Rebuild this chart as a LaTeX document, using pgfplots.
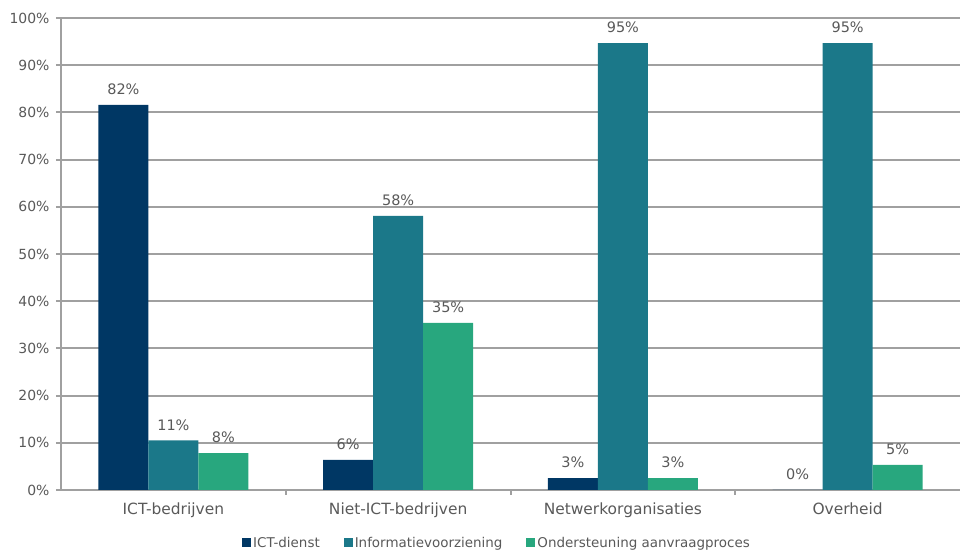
\documentclass[border=0pt]{standalone}
\usepackage{pgfplots}
\pgfplotsset{compat=1.18}
\usepackage{fontspec}
\setmainfont{DejaVu Sans}
\definecolor{cnavy}{HTML}{003764}
\definecolor{cteal}{HTML}{1B7889}
\definecolor{cgreen}{HTML}{28A77E}
\definecolor{cgrid}{HTML}{A0A0A0}
\definecolor{ctext}{HTML}{595959}
\begin{document}
\begin{tikzpicture}
\path[use as bounding box] (0,0) rectangle (960bp,552bp);
\begin{axis}[
  at={(61bp,62bp)}, anchor=south west,
  scale only axis, width=899bp, height=472bp,
  ybar, bar width=50bp,
  xmin=-0.5, xmax=3.5, ymin=0, ymax=100,
  axis x line*=bottom, axis y line*=left,
  axis line style={draw=cgrid, line width=2.6bp, -},
  ymajorgrids, grid style={cgrid, line width=2bp},
  tick align=outside, major tick length=5bp,
  tick style={draw=cgrid, line width=2bp},
  xtick={0.5,1.5,2.5}, xticklabels={},
  extra x ticks={0,1,2,3},
  extra x tick labels={ICT-bedrijven,Niet-ICT-bedrijven,Netwerkorganisaties,Overheid},
  extra x tick style={major tick length=0pt, xticklabel style={yshift=-9bp}},
  ytick={0,10,...,100},
  yticklabels={0\%,10\%,20\%,30\%,40\%,50\%,60\%,70\%,80\%,90\%,100\%},
  tick label style={text=ctext},
  xticklabel style={font=\fontsize{15.5}{18}\selectfont},
  yticklabel style={font=\fontsize{14}{17}\selectfont, xshift=-3bp},
  point meta=explicit symbolic,
  nodes near coords={\pgfplotspointmeta\%},
  nodes near coords style={font=\fontsize{14.5}{17}\selectfont, text=ctext, yshift=6.5bp},
  legend style={at={(0.485,-0.112)}, anchor=center, legend columns=-1, draw=none,
    font=\fontsize{13.5}{16}\selectfont, text=ctext,
    /tikz/every even column/.append style={column sep=22bp}},
  legend image code/.code={\fill[#1] (0bp,-4.5bp) rectangle (9bp,4.5bp);},
]
\addplot[fill=cnavy, draw=none, bar shift=-50bp] coordinates {(0,81.6)[82] (1,6.4)[6] (2,2.5)[3] (3,0)[0]};
\addplot[fill=cteal, draw=none, bar shift=0bp] coordinates {(0,10.5)[11] (1,58.1)[58] (2,94.7)[95] (3,94.7)[95]};
\addplot[fill=cgreen, draw=none, bar shift=50bp] coordinates {(0,7.8)[8] (1,35.4)[35] (2,2.5)[3] (3,5.3)[5]};
\legend{ICT-dienst, Informatievoorziening, Ondersteuning aanvraagproces}
\end{axis}
\end{tikzpicture}
\end{document}
